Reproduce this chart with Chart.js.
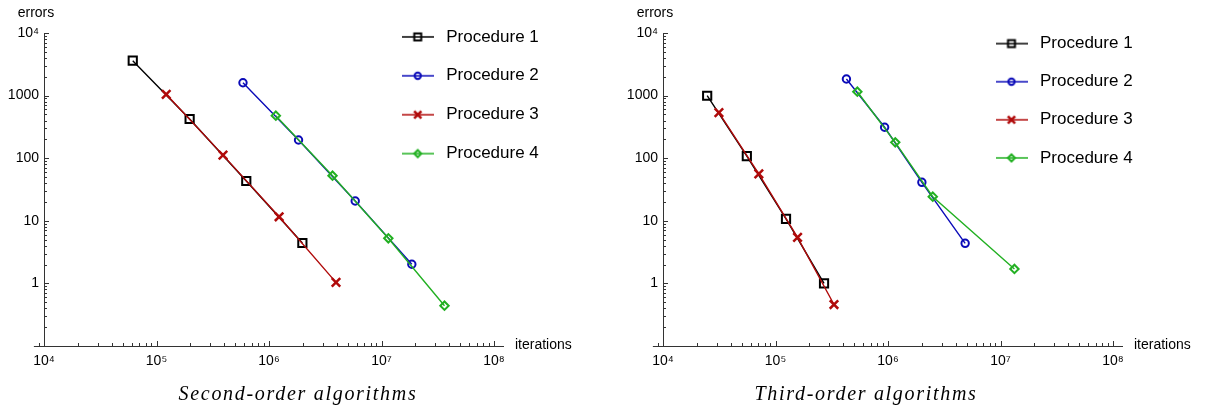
<!DOCTYPE html>
<html>
<head>
<meta charset="utf-8">
<script src="https://cdn.jsdelivr.net/npm/chart.js@4.4.1/dist/chart.umd.min.js"></script>
<style>
	html, body { margin: 0; padding: 0; background: #fff; }
	body { width: 1205px; height: 411px; position: relative; overflow: hidden; }
	.panel { position: absolute; top: 0; height: 411px; }
	#left { left: 0; width: 600px; }
	#right { left: 619px; width: 586px; }
</style>
</head>
<body>
<div class="panel" id="left"><canvas id="second-order"></canvas></div>
<div class="panel" id="right"><canvas id="third-order"></canvas></div>
<script>
// values (both axes logarithmic)
const procedureNames = ["Procedure 1", "Procedure 2", "Procedure 3", "Procedure 4"];
const xTickLabels = ["10⁴", "10⁵", "10⁶", "10⁷", "10⁸"];
const yTickLabels = ["1", "10", "100", "1000", "10⁴"];

// second-order algorithms
const second1Iter = [61500, 197000, 628000, 1980000];
const second1Err = [3610, 423, 43.2, 4.42];
const second2Iter = [587000, 1830000, 5840000, 18600000];
const second2Err = [1607, 195, 20.7, 2.02];
const second3Iter = [122000, 390000, 1230000, 3940000];
const second3Err = [1050, 112, 11.6, 1.04];
const second4Iter = [1150000, 3670000, 11500000, 36300000];
const second4Err = [478, 52.5, 5.25, 0.44];

// third-order algorithms
const third1Iter = [24700, 55600, 124000, 270000];
const third1Err = [995, 108, 10.7, 1.0];
const third2Iter = [427000, 933000, 2000000, 4850000];
const third2Err = [1841, 312, 41.2, 4.37];
const third3Iter = [31400, 71100, 157000, 331000];
const third3Err = [533, 56, 5.45, 0.46];
const third4Iter = [534000, 1160000, 2500000, 13300000];
const third4Err = [1153, 179, 24.3, 1.7];

const colors = ["#000000", "#0b0bb8", "#b00a0a", "#22b022"];
const markers = ["rect", "circle", "crossRot", "rectRot"];
const markerSize = [5.8, 3.7, 6, 4.2];
const markerBorder = [2, 2, 2.5, 2];
const drawOrder = [1, 1, 0, 0]; // red over black, green over blue
const axisColor = "#333";
const sansFont = "'Liberation Sans', Arial, sans-serif";

Chart.defaults.font.family = sansFont;
Chart.defaults.color = "#000";

function isPow10(v) {
	const l = Math.log10(v);
	return Math.abs(l - Math.round(l)) < 1e-9;
}

function logTicks(min, max) {
	const ticks = [];
	for (let e = Math.floor(Math.log10(min)); e <= Math.ceil(Math.log10(max)); e++) {
		for (let k = 1; k <= 9; k++) {
			const v = k * Math.pow(10, e);
			if (v >= min * 0.999 && v <= max * 1.001) ticks.push({ value: v });
		}
	}
	return ticks;
}

function legendSwatch(i) {
	const c = document.createElement("canvas");
	c.width = 32;
	c.height = 16;
	const g = c.getContext("2d");
	g.strokeStyle = colors[i];
	g.lineWidth = 1.5;
	g.beginPath();
	g.moveTo(0, 8);
	g.lineTo(32, 8);
	g.stroke();
	g.lineWidth = markerBorder[i];
	g.fillStyle = "rgba(0,0,0,0)";
	Chart.helpers.drawPoint(g, { pointStyle: markers[i], radius: markerSize[i] * 0.85, borderWidth: markerBorder[i], rotation: 0 }, 16, 8);
	return c;
}
const swatches = procedureNames.map((n, i) => legendSwatch(i));

function buildDatasets(iters, errs) {
	return procedureNames.map((name, i) => ({
		label: name,
		data: iters[i].map((x, j) => ({ x: x, y: errs[i][j] })),
		borderColor: colors[i],
		backgroundColor: "rgba(0,0,0,0)",
		borderWidth: 1.4,
		pointStyle: markers[i],
		pointRadius: markerSize[i],
		pointHoverRadius: markerSize[i],
		pointBorderWidth: markerBorder[i],
		pointBorderColor: colors[i],
		pointBackgroundColor: "rgba(0,0,0,0)",
		order: drawOrder[i],
		tension: 0,
	}));
}

// tick marks pointing into the plot, plus the short stub of the x axis left of 10^4
const innerTicks = {
	id: "innerTicks",
	afterDatasetsDraw(chart) {
		const { ctx, chartArea, scales } = chart;
		const stubStart = scales.x.getPixelForValue(Math.pow(10, 3.91));
		const stubTick = Math.round(scales.x.getPixelForValue(9000)) + 0.5;
		ctx.save();
		ctx.strokeStyle = axisColor;
		ctx.lineWidth = 1;
		ctx.beginPath();
		ctx.moveTo(stubStart, chartArea.bottom + 0.5);
		ctx.lineTo(chartArea.left, chartArea.bottom + 0.5);
		ctx.moveTo(stubTick, chartArea.bottom);
		ctx.lineTo(stubTick, chartArea.bottom - 3);
		for (const t of scales.x.ticks) {
			const px = Math.round(scales.x.getPixelForValue(t.value)) + 0.5;
			const len = isPow10(t.value) ? 5 : 3;
			ctx.moveTo(px, chartArea.bottom);
			ctx.lineTo(px, chartArea.bottom - len);
		}
		for (const t of scales.y.ticks) {
			const py = Math.round(scales.y.getPixelForValue(t.value)) + 0.5;
			const len = isPow10(t.value) ? 5 : 3;
			ctx.moveTo(chartArea.left, py);
			ctx.lineTo(chartArea.left + len, py);
		}
		ctx.stroke();
		ctx.restore();
	},
};

// axis names and the caption under each panel
const axisNotes = {
	id: "axisNotes",
	afterDraw(chart, args, opts) {
		const { ctx, chartArea } = chart;
		ctx.save();
		ctx.fillStyle = "#000";
		ctx.font = "14px " + sansFont;
		ctx.textBaseline = "middle";
		ctx.textAlign = "center";
		ctx.fillText("errors", chartArea.left - 8, 13);
		ctx.textAlign = "left";
		ctx.fillText("iterations", chartArea.right + 12, chartArea.bottom - 1);
		ctx.font = "italic 20px 'Liberation Serif', 'Times New Roman', serif";
		ctx.letterSpacing = "1.7px";
		ctx.textBaseline = "alphabetic";
		ctx.textAlign = "center";
		ctx.fillText(opts.caption, opts.captionX, 400);
		ctx.restore();
	},
};

// move the legend to the upper right part of the panel
const legendPlace = {
	id: "legendPlace",
	afterLayout(chart, args, opts) {
		const lg = chart.legend;
		lg.left = opts.left;
		lg.right = opts.left + 220;
		lg.top = opts.top;
		lg.bottom = opts.top + 400;
	},
};

function makeChart(canvasId, iters, errs, caption, captionX, padRight, legendLeft, legendTop, legendGap) {
	const xMax = Math.pow(10, 8.08);
	return new Chart(document.getElementById(canvasId), {
		type: "line",
		data: { datasets: buildDatasets(iters, errs) },
		plugins: [innerTicks, axisNotes, legendPlace],
		options: {
			responsive: true,
			maintainAspectRatio: false,
			animation: false,
			layout: { padding: { left: 4, top: 33, right: padRight, bottom: 35 } },
			plugins: {
				tooltip: { enabled: false },
				axisNotes: { caption: caption, captionX: captionX },
				legendPlace: { left: legendLeft, top: legendTop },
				legend: {
					position: "chartArea",
					align: "start",
					labels: {
						usePointStyle: true,
						pointStyleWidth: 40,
						padding: legendGap,
						color: "#000",
						font: { size: 17, family: sansFont },
						generateLabels: (chart) =>
							chart.data.datasets.map((ds, i) => ({
								text: ds.label,
								pointStyle: swatches[i],
								fillStyle: "rgba(0,0,0,0)",
								strokeStyle: colors[i],
								lineWidth: 0,
								hidden: false,
								datasetIndex: i,
							})),
					},
				},
			},
			scales: {
				x: {
					type: "logarithmic",
					min: 1e4,
					max: xMax,
					grid: { display: false, drawTicks: false },
					border: { display: true, color: axisColor, width: 1 },
					afterBuildTicks: (scale) => { scale.ticks = logTicks(scale.min, scale.max); },
					afterFit: (scale) => { scale.height = 30; },
					ticks: {
						autoSkip: false,
						maxRotation: 0,
						padding: 7,
						font: { size: 14 },
						callback: (v) => (isPow10(v) ? xTickLabels[Math.round(Math.log10(v)) - 4] || "" : ""),
					},
				},
				y: {
					type: "logarithmic",
					min: 0.1,
					max: 1e4,
					grid: { display: false, drawTicks: false },
					border: { display: true, color: axisColor, width: 1 },
					afterBuildTicks: (scale) => { scale.ticks = logTicks(scale.min, scale.max); },
					afterFit: (scale) => { scale.width = 40; },
					ticks: {
						autoSkip: false,
						padding: 5,
						font: { size: 14 },
						callback: (v) => (isPow10(v) ? yTickLabels[Math.round(Math.log10(v))] || "" : ""),
					},
				},
			},
		},
	});
}

const secondOrder = makeChart(
	"second-order",
	[second1Iter, second2Iter, second3Iter, second4Iter],
	[second1Err, second2Err, second3Err, second4Err],
	"Second-order algorithms", 298, 97, 375.8, 6.5, 21.9
);

const thirdOrder = makeChart(
	"third-order",
	[third1Iter, third2Iter, third3Iter, third4Iter],
	[third1Err, third2Err, third3Err, third4Err],
	"Third-order algorithms", 247, 83, 351.4, 14, 21.1
);
</script>
</body>
</html>
